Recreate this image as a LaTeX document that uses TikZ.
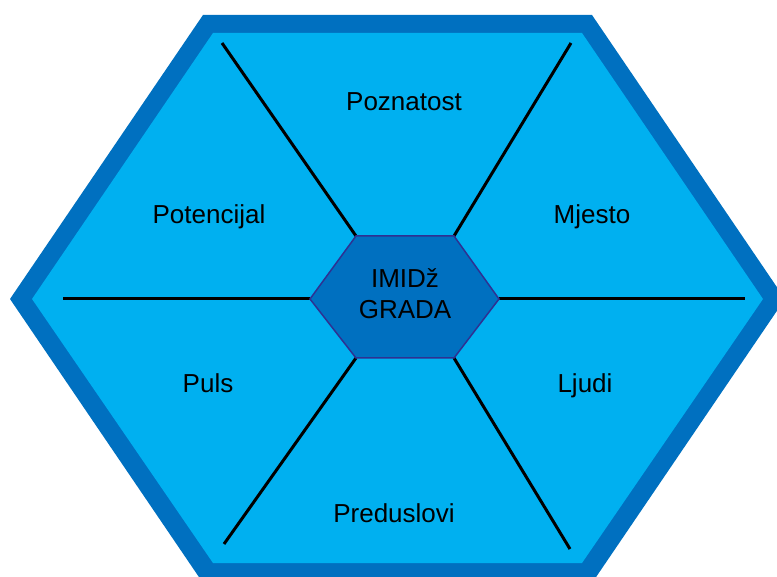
\documentclass[tikz,border=0pt]{standalone}
\usepackage{fontspec}
\setmainfont{Liberation Sans}
\definecolor{hexlight}{RGB}{0,176,240}
\definecolor{hexdark}{RGB}{0,112,192}
\definecolor{hexedge}{RGB}{46,49,146}

\begin{document}
\begin{tikzpicture}[x=0.5pt,y=-0.5pt, lab/.style={anchor=base,font=\fontsize{13}{15.5}\selectfont}, spoke/.style={line width=1.5pt}]
\useasboundingbox (0,0) rectangle (777,577);
\clip (0,0) rectangle (777,577);
% outer frame
\fill[hexdark] (10,299) -- (203,15) -- (592,15) -- (785,299) -- (592,583) -- (203,583) -- cycle;
\fill[hexlight] (32,299) -- (213,33) -- (582,33) -- (763,299) -- (582,563) -- (213,563) -- cycle;
% centre hexagon corners
\coordinate (w) at (310,299);
\coordinate (nw) at (356,236);
\coordinate (ne) at (454,236);
\coordinate (e) at (499,299);
\coordinate (se) at (454,358);
\coordinate (sw) at (356,358);
% spoke ends
\coordinate (lw) at (63,299);
\coordinate (lnw) at (222,43);
\coordinate (lne) at (571,43);
\coordinate (le) at (745,299);
\coordinate (lse) at (570,549);
\coordinate (lsw) at (224,544);
\draw[spoke] (w) -- (lw);
\draw[spoke] (nw) -- (lnw);
\draw[spoke] (ne) -- (lne);
\draw[spoke] (e) -- (le);
\draw[spoke] (se) -- (lse);
\draw[spoke] (sw) -- (lsw);
\draw[hexedge, fill=hexdark, line width=0.75pt] (w) -- (nw) -- (ne) -- (e) -- (se) -- (sw) -- cycle;
\node [align=center, font=\fontsize{13}{15.5}\selectfont] (core) at (405,294) {IMIDž\\GRADA};
% labels
\node [lab] (poz) at (404,111) {Poznatost};
\node [lab] (pot) at (209,224) {Potencijal};
\node [lab] (mje) at (592,224) {Mjesto};
\node [lab] (pul) at (208,393) {Puls};
\node [lab] (lju) at (585,393) {Ljudi};
\node [lab] (pre) at (394,522) {Preduslovi};
\end{tikzpicture}
\end{document}
